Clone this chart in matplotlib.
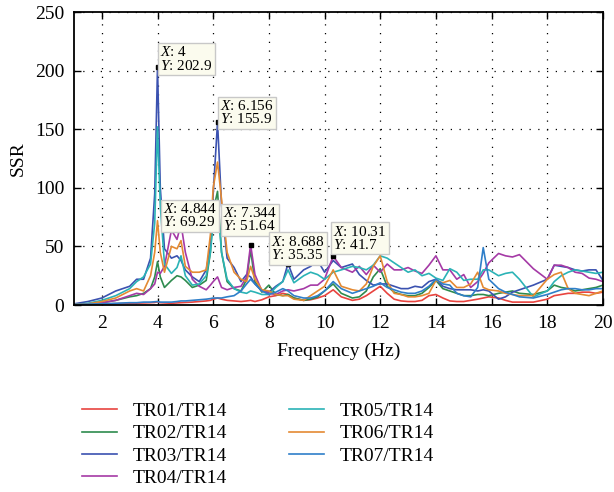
import matplotlib
matplotlib.use("Agg")
import matplotlib.pyplot as plt

# --- font / style ---
plt.rcParams['font.family'] = ['Liberation Serif', 'DejaVu Serif']
plt.rcParams['mathtext.fontset'] = 'custom'
plt.rcParams['mathtext.rm'] = 'Liberation Serif'
plt.rcParams['mathtext.it'] = 'Liberation Serif:italic'

# --- data ---
FREQ = [1.0, 1.5, 2.0, 2.5, 3.0, 3.25, 3.5, 3.75, 3.9,
        4.0, 4.1, 4.25, 4.5, 4.7, 4.844,
        5.0, 5.25, 5.5, 5.75, 5.9, 6.0, 6.156, 6.3, 6.5,
        6.75, 7.0, 7.2, 7.344, 7.5, 7.75, 8.0, 8.25, 8.5,
        8.688, 8.9, 9.25, 9.5, 9.75, 10.0, 10.31, 10.6, 11.0,
        11.25, 11.5, 11.75, 12.0, 12.25, 12.5, 12.75, 13.0,
        13.25, 13.5, 13.75, 14.0, 14.25, 14.5, 14.75, 15.0,
        15.25, 15.5, 15.7, 15.9, 16.25, 16.5, 16.75, 17.0,
        17.5, 18.0, 18.25, 18.5, 18.75, 19.0, 19.25, 19.5, 19.75, 20.0]

TR01 = [0.5, 0.8, 1.0, 1.2, 1.5, 1.6, 1.8, 2.0, 2.2,
        2.8, 2.0, 1.8, 1.5, 1.8, 2.0,
        2.2, 2.5, 3.0, 3.5, 4.0, 5.0, 6.0, 5.0, 4.0,
        3.5, 3.0, 3.5, 4.0, 3.0, 4.5, 7.0, 8.0, 10.0,
        9.0, 6.0, 4.0, 4.5, 6.0, 8.0, 13.0, 7.0, 4.0,
        5.0, 8.0, 12.0, 16.0, 10.0, 5.0, 3.5, 3.0,
        3.0, 4.0, 8.0, 9.0, 6.0, 3.5, 3.0, 3.0,
        4.0, 5.0, 6.0, 7.0, 6.0, 4.0, 2.5, 2.5,
        2.5, 5.0, 8.0, 9.0, 10.0, 10.0, 11.0, 11.0, 10.0, 11.0]

TR02 = [0.5, 1.0, 2.0, 4.0, 7.0, 8.0, 10.0, 14.0, 24.0,
        37.0, 24.0, 15.0, 21.0, 25.0, 24.0,
        21.0, 15.0, 17.0, 21.0, 45.0, 80.0, 97.0, 45.0, 20.0,
        14.0, 12.0, 22.0, 47.0, 20.0, 11.0, 17.0, 9.0, 8.0,
        9.0, 6.0, 4.0, 5.0, 7.0, 12.0, 18.0, 10.0, 6.0,
        7.0, 12.0, 24.0, 31.0, 16.0, 11.0, 9.0, 8.0,
        8.0, 10.0, 15.0, 21.0, 14.0, 12.0, 10.0, 8.0,
        8.0, 9.0, 9.0, 8.0, 10.0, 11.0, 12.0, 10.0,
        9.0, 12.0, 17.0, 15.0, 14.0, 12.0, 13.0, 14.0, 15.0, 17.0]

TR03 = [1.0, 3.0, 6.0, 12.0, 16.0, 22.0, 22.0, 40.0, 95.0,
        202.9, 100.0, 48.0, 40.0, 42.0, 38.0,
        30.0, 24.0, 20.0, 30.0, 50.0, 95.0, 155.9, 85.0, 40.0,
        32.0, 20.0, 26.0, 24.0, 18.0, 12.0, 11.0, 16.0, 20.0,
        35.35, 22.0, 30.0, 33.0, 38.0, 28.0, 38.0, 32.0, 35.0,
        26.0, 21.0, 17.0, 18.0, 18.0, 16.0, 14.0, 14.0,
        16.0, 15.0, 20.0, 22.0, 16.0, 14.0, 13.0, 13.0,
        13.0, 12.0, 13.0, 12.0, 5.0, 7.0, 11.0, 13.0,
        17.0, 22.0, 34.0, 33.0, 32.0, 30.0, 29.0, 30.0, 30.0, 21.0]

TR04 = [0.5, 1.0, 2.0, 4.0, 8.0, 10.0, 9.0, 14.0, 18.0,
        28.0, 27.0, 33.0, 64.0, 56.0, 69.29,
        45.0, 22.0, 16.0, 13.0, 17.0, 20.0, 24.0, 15.0, 13.0,
        15.0, 16.0, 24.0, 51.64, 26.0, 12.0, 10.0, 9.0, 12.0,
        13.0, 12.0, 14.0, 17.0, 17.0, 22.0, 41.7, 32.0, 28.0,
        33.0, 26.0, 34.0, 28.0, 35.0, 30.0, 30.0, 32.0,
        29.0, 27.0, 34.0, 42.0, 30.0, 30.0, 22.0, 26.0,
        15.0, 20.0, 27.0, 36.0, 44.0, 42.0, 41.0, 43.0,
        31.0, 22.0, 34.0, 34.0, 32.0, 28.0, 27.0, 23.0, 22.0, 20.0]

TR05 = [0.5, 1.5, 4.0, 8.0, 14.0, 20.0, 24.0, 35.0, 70.0,
        152.0, 85.0, 35.0, 27.0, 32.0, 42.0,
        25.0, 17.0, 18.0, 25.0, 45.0, 70.0, 88.0, 45.0, 22.0,
        14.0, 11.0, 10.0, 12.0, 11.0, 9.0, 9.0, 15.0, 20.0,
        30.0, 19.0, 25.0, 28.0, 26.0, 22.0, 28.0, 30.0, 33.0,
        32.0, 30.0, 34.0, 42.0, 40.0, 36.0, 32.0, 28.0,
        30.0, 25.0, 27.0, 23.0, 21.0, 31.0, 28.0, 21.0,
        22.0, 22.0, 30.0, 30.0, 25.0, 27.0, 28.0, 22.0,
        7.0, 12.0, 20.0, 25.0, 28.0, 30.0, 29.0, 28.0, 27.0, 28.0]

TR06 = [0.5, 1.0, 3.0, 6.0, 12.0, 14.0, 12.0, 25.0, 45.0,
        72.0, 45.0, 28.0, 50.0, 48.0, 55.0,
        33.0, 28.0, 28.0, 30.0, 60.0, 100.0, 122.0, 90.0, 45.0,
        28.0, 22.0, 20.0, 33.0, 22.0, 13.0, 12.0, 9.0, 8.0,
        8.0, 5.0, 4.0, 8.0, 12.0, 16.0, 30.0, 16.0, 13.0,
        12.0, 18.0, 33.0, 42.0, 20.0, 10.0, 9.0, 7.0,
        7.0, 8.0, 10.0, 21.0, 19.0, 21.0, 15.0, 15.0,
        18.0, 28.0, 15.0, 13.0, 12.0, 10.0, 9.0, 8.0,
        8.0, 22.0, 26.0, 28.0, 14.0, 10.0, 9.0, 8.0, 10.0, 12.0]

TR07 = [0.5, 0.8, 1.0, 1.5, 2.0, 2.0, 2.5, 2.5, 2.8,
        3.0, 2.5, 2.5, 2.5, 3.0, 3.5,
        3.5, 4.0, 4.5, 5.0, 5.5, 6.0, 6.0, 6.0, 7.0,
        8.0, 12.0, 18.0, 22.0, 18.0, 12.0, 9.0, 11.0, 14.0,
        12.0, 8.0, 6.0, 6.0, 8.0, 12.0, 20.0, 14.0, 10.0,
        12.0, 14.0, 16.0, 19.0, 15.0, 13.0, 11.0, 10.0,
        10.0, 12.0, 16.0, 22.0, 18.0, 17.0, 10.0, 8.0,
        7.0, 15.0, 49.0, 22.0, 14.0, 11.0, 9.0, 7.0,
        6.0, 9.0, 11.0, 13.0, 14.0, 14.0, 13.0, 13.0, 14.0, 14.0]

LABELS = ["TR01/TR14", "TR02/TR14", "TR03/TR14", "TR04/TR14",
          "TR05/TR14", "TR06/TR14", "TR07/TR14"]
COLORS = ["#e8443f", "#2e8b4e", "#3b52b0", "#a53aa6",
          "#2bb3b6", "#e48a33", "#2f7fc9"]

# data tips (MATLAB style) and where their boxes sit, in points
TIPS_X = [4, 6.156, 4.844, 7.344, 8.688, 10.31]
TIPS_Y = [202.9, 155.9, 69.29, 51.64, 35.35, 41.7]
TIPS_X_TXT = ["4", "6.156", "4.844", "7.344", "8.688", "10.31"]
TIP_OFFSETS = [(2, -4), (2, -3), (-13, -4), (-20, 8), (-12, 1), (0, 3)]

fig = plt.figure(figsize=(6.14, 4.92), dpi=100)
ax = fig.add_axes([0.1205, 0.380, 0.8615, 0.5956])

for ys, lab, col in zip([TR01, TR02, TR03, TR04, TR05, TR06, TR07], LABELS, COLORS):
    ax.plot(FREQ, ys, color=col, linewidth=1.2, label=lab)

# data tips
for x, y, xs, off in zip(TIPS_X, TIPS_Y, TIPS_X_TXT, TIP_OFFSETS):
    ax.plot([x], [y], marker='s', color='black', markersize=3.5, zorder=10)
    ax.annotate(r"$\it{X}$: " + xs + "\n" + r"$\it{Y}$: " + f"{y:g}",
                xy=(x, y), xytext=off, textcoords='offset points',
                ha='left', va='bottom', fontsize=11, linespacing=0.95,
                bbox=dict(boxstyle='square,pad=0.15', fc='#fbfbee',
                          ec='#c8c8c8', lw=1.0), zorder=11)

ax.set_xlim(1, 20)
ax.set_ylim(0, 250)
ax.set_xticks(range(2, 21, 2))
ax.set_yticks(range(0, 251, 50))
ax.tick_params(direction='in', top=True, right=True, length=5, width=1,
               labelsize=14, pad=7)
ax.grid(True, color='black', linestyle=(0, (1, 6)), linewidth=0.9)
for s in ax.spines.values():
    s.set_linewidth(1.3)

ax.set_xlabel("Frequency (Hz)", fontsize=14, labelpad=8)
ax.set_ylabel("SSR", fontsize=14, labelpad=6)

fig.legend(loc='upper left', bbox_to_anchor=(0.105, 0.218), ncol=2,
           frameon=False, fontsize=14, handlelength=1.8, handletextpad=0.8,
           columnspacing=3.2, labelspacing=0.25)

plt.savefig("out.png", dpi=100)
